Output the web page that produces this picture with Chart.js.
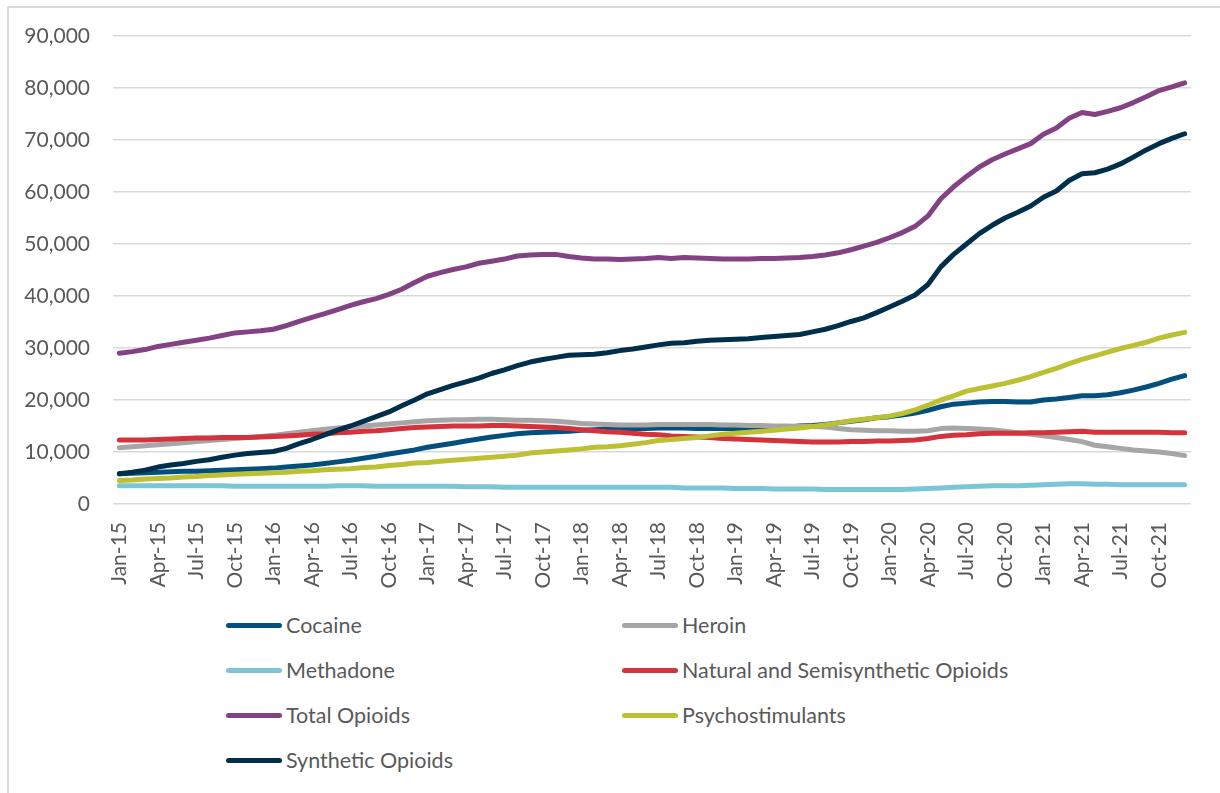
<!DOCTYPE html>
<html>
<head>
<meta charset="utf-8">
<script src="https://cdn.jsdelivr.net/npm/chart.js@4.4.1/dist/chart.umd.min.js"></script>
<style>
  body { margin: 0; background: #fff; font-family: Lato, "Open Sans", sans-serif; }
  #frame { position: absolute; left: 7px; top: 6px; width: 1240px; height: 820px; border: 2px solid #d9d9d9; box-sizing: border-box; }
  #wrap { position: absolute; left: 0; top: 0; width: 1220px; height: 600px; }
  .item { position: absolute; display: flex; align-items: center; height: 26px; font-size: 21.5px; color: #595959; white-space: nowrap; }
  .swatch { display: inline-block; width: 56px; height: 5px; border-radius: 3px; margin-right: 4px; }
</style>
</head>
<body>
<div id="frame"></div>
<div id="wrap"><canvas id="myChart"></canvas></div>
<div id="legend"></div>
<script>
// month labels, Jan-15 .. Dec-21
var monthNames = ["Jan", "Feb", "Mar", "Apr", "May", "Jun", "Jul", "Aug", "Sep", "Oct", "Nov", "Dec"];
var years = ["15", "16", "17", "18", "19", "20", "21"];
var months = [];
years.forEach(function (y) {
  monthNames.forEach(function (m) { months.push(m + "-" + y); });
});

// monthly counts per drug class
var cocaine = [
  5800, 5900, 6000, 6100, 6200, 6300, 6300, 6400, 6500, 6600, 6700, 6800,
  6900, 7100, 7300, 7500, 7800, 8100, 8400, 8800, 9200, 9600, 10000, 10400,
  10900, 11300, 11700, 12100, 12500, 12900, 13200, 13500, 13700, 13800, 13900, 14000,
  14200, 14300, 14400, 14400, 14500, 14500, 14600, 14600, 14600, 14500, 14500, 14500,
  14500, 14500, 14600, 14700, 14800, 15000, 15100, 15300, 15600, 15900, 16200, 16600,
  16800, 17100, 17500, 18000, 18700, 19200, 19400, 19600, 19700, 19700, 19600, 19600,
  20000, 20200, 20500, 20800, 20800, 21000, 21400, 21900, 22500, 23200, 24000, 24700
];
var heroin = [
  10800, 11000, 11200, 11400, 11600, 11800, 12000, 12200, 12400, 12600, 12800, 13000,
  13200, 13500, 13800, 14100, 14400, 14600, 14800, 15000, 15200, 15400, 15600, 15800,
  16000, 16100, 16200, 16200, 16300, 16300, 16200, 16100, 16100, 16000, 15900, 15700,
  15500, 15400, 15300, 15200, 15200, 15200, 15300, 15300, 15300, 15300, 15300, 15200,
  15200, 15100, 15100, 15000, 15000, 14900, 14900, 14800, 14500, 14300, 14200, 14100,
  14100, 14000, 14000, 14100, 14500, 14600, 14500, 14400, 14300, 14000, 13700, 13400,
  13100, 12800, 12400, 12000, 11300, 11000, 10700, 10400, 10200, 10000, 9700, 9300
];
var methadone = [
  3500, 3500, 3500, 3500, 3500, 3500, 3500, 3500, 3500, 3400, 3400, 3400,
  3400, 3400, 3400, 3400, 3400, 3500, 3500, 3500, 3400, 3400, 3400, 3400,
  3400, 3400, 3400, 3300, 3300, 3300, 3200, 3200, 3200, 3200, 3200, 3200,
  3200, 3200, 3200, 3200, 3200, 3200, 3200, 3200, 3100, 3100, 3100, 3100,
  3000, 3000, 3000, 2900, 2900, 2900, 2900, 2800, 2800, 2800, 2800, 2800,
  2800, 2800, 2900, 3000, 3100, 3200, 3300, 3400, 3500, 3500, 3500, 3600,
  3700, 3800, 3900, 3900, 3800, 3800, 3700, 3700, 3700, 3700, 3700, 3700
];
var natural = [
  12300, 12300, 12300, 12400, 12500, 12600, 12700, 12700, 12800, 12800, 12800, 12900,
  13000, 13100, 13200, 13400, 13500, 13700, 13800, 14000, 14100, 14300, 14500, 14700,
  14800, 14900, 15000, 15000, 15000, 15100, 15100, 15000, 14900, 14800, 14700, 14500,
  14300, 14100, 13900, 13800, 13600, 13400, 13300, 13100, 13000, 12900, 12800, 12600,
  12500, 12400, 12300, 12200, 12100, 12000, 11900, 11900, 11900, 12000, 12000, 12100,
  12100, 12200, 12300, 12600, 13000, 13200, 13300, 13500, 13600, 13600, 13600, 13700,
  13700, 13800, 13900, 14000, 13800, 13800, 13800, 13800, 13800, 13800, 13700, 13700
];
var totalOpioids = [
  29000, 29300, 29700, 30300, 30700, 31100, 31500, 31900, 32400, 32900, 33100, 33300,
  33600, 34300, 35100, 35900, 36600, 37400, 38200, 38900, 39500, 40300, 41300, 42600,
  43800, 44500, 45100, 45600, 46300, 46700, 47100, 47700, 47900, 48000, 48000, 47600,
  47300, 47100, 47100, 47000, 47100, 47200, 47400, 47200, 47400, 47300, 47200, 47100,
  47100, 47100, 47200, 47200, 47300, 47400, 47600, 47900, 48300, 48900, 49600, 50300,
  51200, 52200, 53400, 55400, 58700, 61000, 63000, 64800, 66200, 67300, 68300, 69300,
  71100, 72300, 74200, 75300, 74900, 75500, 76200, 77200, 78300, 79500, 80200, 81000
];
var psychostimulants = [
  4500, 4600, 4800, 4900, 5000, 5200, 5300, 5500, 5600, 5700, 5800, 5900,
  6000, 6100, 6300, 6400, 6600, 6700, 6800, 7000, 7100, 7400, 7600, 7900,
  8000, 8200, 8400, 8600, 8800, 9000, 9200, 9400, 9800, 10000, 10200, 10400,
  10600, 10900, 11000, 11200, 11500, 11800, 12200, 12400, 12600, 12800, 13100, 13400,
  13600, 13800, 14000, 14200, 14400, 14600, 14900, 15200, 15600, 16000, 16300, 16600,
  16900, 17400, 18100, 19000, 20000, 20800, 21700, 22200, 22700, 23200, 23800, 24500,
  25300, 26100, 27000, 27800, 28500, 29200, 29900, 30500, 31100, 31900, 32500, 33000
];
var synthetic = [
  5800, 6100, 6500, 7100, 7500, 7800, 8200, 8500, 9000, 9400, 9700, 9900,
  10100, 10700, 11600, 12400, 13300, 14200, 15000, 15900, 16800, 17700, 18900, 20000,
  21200, 22000, 22800, 23500, 24200, 25100, 25800, 26600, 27300, 27800, 28200, 28600,
  28700, 28800, 29100, 29500, 29800, 30200, 30600, 30900, 31000, 31300, 31500, 31600,
  31700, 31800, 32000, 32200, 32400, 32600, 33100, 33600, 34300, 35100, 35800, 36800,
  37900, 39000, 40200, 42200, 45600, 48000, 50000, 52000, 53600, 55000, 56100, 57300,
  59000, 60200, 62200, 63500, 63700, 64400, 65400, 66700, 68100, 69300, 70300, 71200
];

var seriesNames = ["Cocaine", "Heroin", "Methadone", "Natural and Semisynthetic Opioids",
  "Total Opioids", "Psychostimulants", "Synthetic Opioids"];
var seriesColors = ["#03507e", "#a6a6a6", "#7ac5d6", "#d5333b", "#834283", "#bcc033", "#002f4c"];
var seriesData = [cocaine, heroin, methadone, natural, totalOpioids, psychostimulants, synthetic];
var yTicks = [0, 10000, 20000, 30000, 40000, 50000, 60000, 70000, 80000, 90000];

var textColor = "#595959";
var font = { family: "Lato, 'Open Sans', sans-serif", size: 21 };

const data = {
  labels: months,
  datasets: seriesNames.map(function (name, i) {
    return {
      label: name,
      data: seriesData[i],
      borderColor: seriesColors[i],
      backgroundColor: seriesColors[i],
      borderWidth: 5,
      borderCapStyle: "round",
      borderJoinStyle: "round",
      pointRadius: 0,
      fill: false,
      // later series sit on top
      order: seriesNames.length - 1 - i,
    };
  }),
};

const config = {
  type: "line",
  data,
  options: {
    responsive: true,
    maintainAspectRatio: false,
    animation: false,
    layout: { padding: { top: 36, right: 22, left: 0, bottom: 0 } },
    plugins: { legend: { display: false }, tooltip: { enabled: false } },
    scales: {
      x: {
        offset: true,
        grid: { display: false },
        border: { display: false },
        afterFit: function (scale) { scale.height = 96; },
        ticks: {
          autoSkip: false,
          minRotation: 90,
          maxRotation: 90,
          padding: 10,
          color: textColor,
          font: font,
          callback: function (val, idx) {
            return idx % 3 === 0 ? this.getLabelForValue(val) : "";
          },
        },
      },
      y: {
        min: 0,
        max: 90000,
        afterFit: function (scale) { scale.width = 113; },
        afterBuildTicks: function (scale) {
          scale.ticks = yTicks.map(function (v) { return { value: v }; });
        },
        grid: { color: "#d9d9d9", lineWidth: 1.5, drawTicks: false },
        border: { display: false },
        ticks: {
          padding: 23,
          color: textColor,
          font: font,
          callback: function (v) { return v.toLocaleString("en-US"); },
        },
      },
    },
  },
};

const myChart = new Chart(document.getElementById("myChart"), config);

// legend in two columns under the plot
var legend = document.getElementById("legend");
myChart.data.datasets.forEach(function (ds, i) {
  var item = document.createElement("div");
  item.className = "item";
  item.style.left = (i % 2 === 0 ? 226 : 622) + "px";
  item.style.top = (625 + Math.floor(i / 2) * 45 - 13) + "px";
  var sw = document.createElement("span");
  sw.className = "swatch";
  sw.style.background = ds.borderColor;
  item.appendChild(sw);
  item.appendChild(document.createTextNode(ds.label));
  legend.appendChild(item);
});
</script>
</body>
</html>
